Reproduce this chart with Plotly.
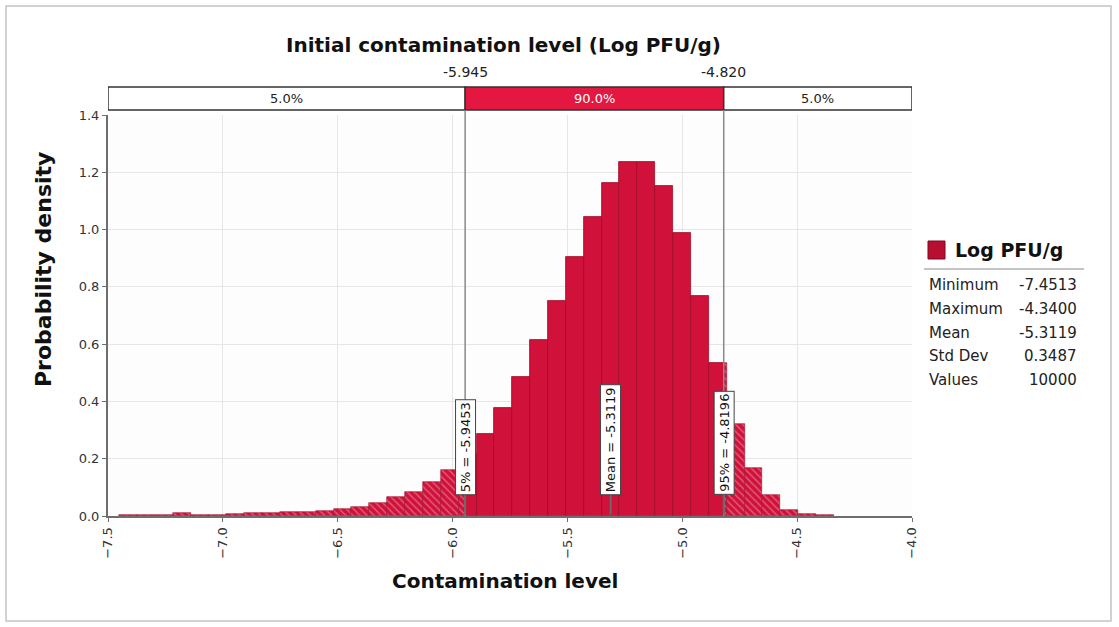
import numpy as np
import plotly.graph_objects as go

# ---- data ----
stat_names = ["Minimum", "Maximum", "Mean", "Std Dev", "Values"]
stat_values = ["-7.4513", "-4.3400", "-5.3119", "0.3487", "10000"]
x_min, x_max = -7.4513, -4.3400
mean_val = -5.3119
p5, p95 = -5.9453, -4.8196
p5_short, p95_short = "-5.945", "-4.820"
band_pcts = ["5.0%", "90.0%", "5.0%"]

# probability density of each of the 40 histogram bins (min -> max)
density = [0.004, 0.003, 0.004, 0.012, 0.004, 0.004, 0.008, 0.009, 0.010, 0.013,
           0.015, 0.018, 0.023, 0.032, 0.046, 0.067, 0.085, 0.120, 0.160, 0.215,
           0.286, 0.377, 0.485, 0.615, 0.751, 0.904, 1.044, 1.163, 1.235, 1.235,
           1.153, 0.987, 0.769, 0.535, 0.321, 0.166, 0.073, 0.021, 0.008, 0.003]

RED = "#D0113A"
RED_TOP = "#E3173F"
W, H = 1119, 627
L, R, T, B = 108, 207, 115, 111


def px_x(p):   # pixel -> paper x
    return (p - L) / (W - L - R)


def px_y(p):   # pixel -> paper y
    return (H - B - p) / (H - T - B)


edges = np.linspace(x_min, x_max, len(density) + 1)

# split bins into hatched tails and solid middle
solid_x, solid_w, solid_y = [], [], []
tail_x, tail_w, tail_y = [], [], []
for lo, hi, d in zip(edges[:-1], edges[1:], density):
    for a, b, tail in [(lo, min(hi, p5), True), (max(lo, p5), min(hi, p95), False),
                       (max(lo, p95), hi, True)]:
        if b > a:
            if tail:
                tail_x.append((a + b) / 2); tail_w.append(b - a); tail_y.append(d)
            else:
                solid_x.append((a + b) / 2); solid_w.append(b - a); solid_y.append(d)

fig = go.Figure()
fig.add_trace(go.Bar(x=solid_x, y=solid_y, width=solid_w,
                     marker=dict(color=RED, line=dict(color="#A00B2A", width=0.8)),
                     showlegend=False, hoverinfo="skip"))
fig.add_trace(go.Bar(x=tail_x, y=tail_y, width=tail_w,
                     marker=dict(color=RED, line=dict(color="#A00B2A", width=0.6),
                                 pattern=dict(shape="\\", fgcolor="rgba(255,255,255,0.6)",
                                              bgcolor=RED, size=5, solidity=0.3)),
                     showlegend=False, hoverinfo="skip"))

# triangles on the delimiter bar
fig.add_trace(go.Scatter(x=[p5, p95], y=[1.497, 1.497], mode="markers",
                         marker=dict(symbol="triangle-down", size=11, color="#3A3A3A"),
                         cliponaxis=False, showlegend=False, hoverinfo="skip"))

shapes = []
# delimiter bar
bar_y0, bar_y1 = px_y(110), px_y(87)
for x0, x1, col in [(-7.5, p5, "white"), (p5, p95, RED_TOP), (p95, -4.0, "white")]:
    shapes.append(dict(type="rect", xref="x", yref="paper", x0=x0, x1=x1, y0=bar_y0, y1=bar_y1,
                       fillcolor=col, line=dict(color="#333333", width=1.5), layer="above"))
# vertical delimiter lines
for xv in [p5, p95]:
    shapes.append(dict(type="line", xref="x", yref="paper", x0=xv, x1=xv, y0=0, y1=bar_y0,
                       line=dict(color="#8A8A8A", width=1.5), layer="above"))
# pins under the value boxes
for xv in [p5, mean_val, p95]:
    shapes.append(dict(type="line", xref="x", yref="y", x0=xv, x1=xv, y0=0.005, y1=0.075,
                       line=dict(color="#6A6A6A", width=2), layer="above"))
# legend swatch and separator
shapes.append(dict(type="rect", xref="paper", yref="paper", x0=px_x(928), x1=px_x(945),
                   y0=px_y(259), y1=px_y(241), fillcolor="#B80E30",
                   line=dict(color="#7A0820", width=1)))
shapes.append(dict(type="line", xref="paper", yref="paper", x0=px_x(924), x1=px_x(1084),
                   y0=px_y(269), y1=px_y(269), line=dict(color="#B0B0B0", width=1.5)))
# outer frame
shapes.append(dict(type="rect", xref="paper", yref="paper", x0=px_x(6), x1=px_x(1111),
                   y0=px_y(621), y1=px_y(6), line=dict(color="#C4C4C4", width=1.5)))

ann = []
FONT = "DejaVu Sans"
C = dict(xanchor="center", yanchor="middle", showarrow=False)
ann.append(dict(text="<b>Initial contamination level (Log PFU/g)</b>", xref="paper", yref="paper",
                x=px_x(503), y=px_y(45), font=dict(family=FONT, size=20, color="#111"), **C))
ann.append(dict(text="<b>Contamination level</b>", xref="paper", yref="paper",
                x=px_x(505), y=px_y(581), font=dict(family=FONT, size=20, color="#111"), **C))
ann.append(dict(text="<b>Probability density</b>", xref="paper", yref="paper", textangle=-90,
                x=px_x(43), y=px_y(270), font=dict(family=FONT, size=22, color="#111"), **C))
# band labels
for (x0, x1), txt in zip([(-7.5, p5), (p5, p95), (p95, -4.0)], band_pcts):
    ann.append(dict(text=txt, xref="x", yref="paper", x=(x0 + x1) / 2, y=(bar_y0 + bar_y1) / 2,
                    font=dict(family=FONT, size=13,
                              color="white" if txt == "90.0%" else "#222"), **C))
for xv, txt in [(p5, p5_short), (p95, p95_short)]:
    ann.append(dict(text=txt, xref="x", yref="paper", x=xv, y=px_y(72),
                    font=dict(family=FONT, size=14, color="#222"), **C))
# rotated value boxes
for xv, txt in [(p5, "5% = -5.9453"), (mean_val, "Mean = -5.3119"), (p95, "95% = -4.8196")]:
    ann.append(dict(text=txt, xref="x", yref="y", x=xv, y=0.073, xanchor="center", yanchor="bottom",
                    textangle=-90, showarrow=False, bgcolor="white", bordercolor="#444",
                    borderwidth=1, borderpad=2, font=dict(family=FONT, size=13, color="#111")))
# legend block
ann.append(dict(text="<b>Log PFU/g</b>", xref="paper", yref="paper", x=px_x(953), y=px_y(250),
                xanchor="left", yanchor="middle", showarrow=False,
                font=dict(family=FONT, size=19, color="#111")))
for i, (nm, vl) in enumerate(zip(stat_names, stat_values)):
    yy = px_y(285 + i * 23.8)
    ann.append(dict(text=nm, xref="paper", yref="paper", x=px_x(927), y=yy, xanchor="left",
                    yanchor="middle", showarrow=False, font=dict(family=FONT, size=15, color="#222")))
    ann.append(dict(text=vl, xref="paper", yref="paper", x=px_x(1079), y=yy, xanchor="right",
                    yanchor="middle", showarrow=False, font=dict(family=FONT, size=15, color="#222")))

fig.update_layout(
    width=W, height=H, margin=dict(l=L, r=R, t=T, b=B),
    paper_bgcolor="white", plot_bgcolor="#FDFDFD",
    bargap=0, barmode="overlay",
    shapes=shapes, annotations=ann,
    font=dict(family=FONT, size=12, color="#333"),
)
fig.update_xaxes(range=[-7.5, -4.0], dtick=0.5, tickformat=".1f", tickangle=-90,
                 showgrid=True, gridcolor="#E6E6E6", zeroline=False,
                 showline=True, linecolor="#6E6E6E", linewidth=2,
                 ticks="outside", ticklen=4, tickcolor="#6E6E6E",
                 tickfont=dict(family=FONT, size=13, color="#333"))
fig.update_yaxes(range=[0, 1.4], dtick=0.2, tickformat=".1f",
                 showgrid=True, gridcolor="#E6E6E6", zeroline=False,
                 showline=True, linecolor="#6E6E6E", linewidth=2,
                 ticks="outside", ticklen=4, tickcolor="#6E6E6E",
                 tickfont=dict(family=FONT, size=13, color="#333"))

fig.write_html("out.html", post_script="document.body.style.margin='0';",
               config={"displayModeBar": False})
